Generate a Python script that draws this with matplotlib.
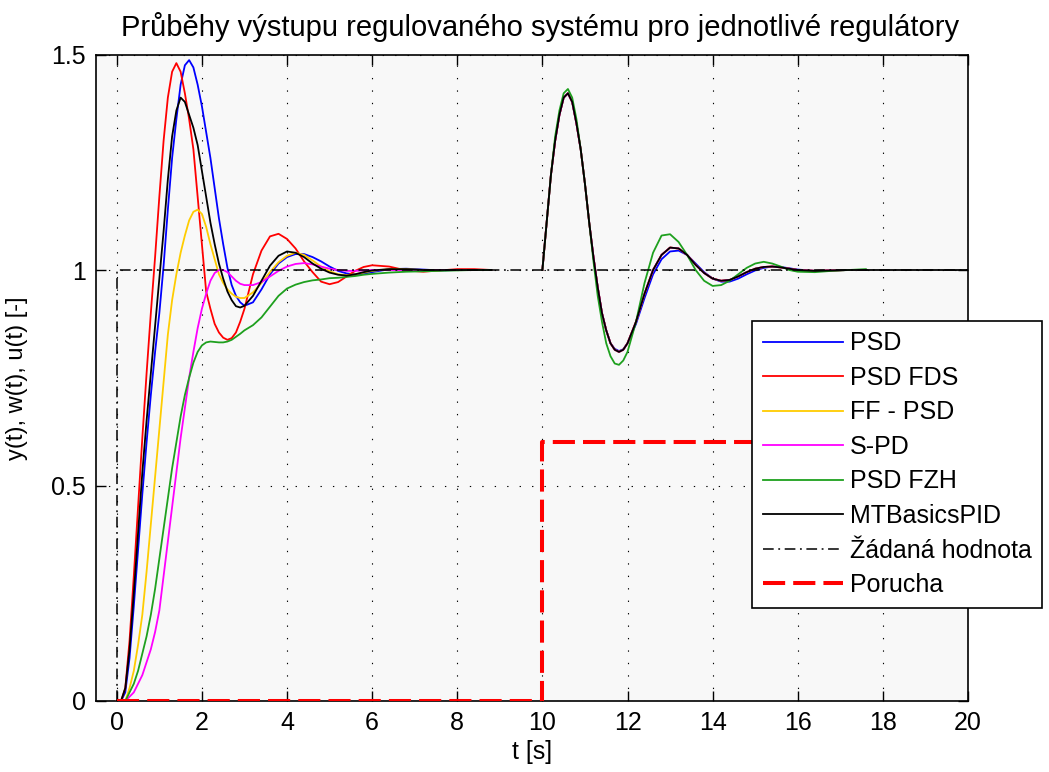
import numpy as np
import matplotlib
matplotlib.use("Agg")
import matplotlib.pyplot as plt
from matplotlib.lines import Line2D

plt.rcParams['font.family'] = ['Liberation Sans', 'DejaVu Sans']

# ---------------- data ----------------
# setpoint-step part (t = 0 .. 8.8 s)
t_sp = [0.0, 0.1, 0.2, 0.3, 0.4, 0.5, 0.6, 0.7, 0.8, 0.9,
        1.0, 1.1, 1.2, 1.3, 1.4, 1.5, 1.6, 1.7, 1.8, 1.9,
        2.0, 2.1, 2.2, 2.3, 2.4, 2.5, 2.6, 2.7, 2.8, 2.9, 3.0,
        3.2, 3.4, 3.6, 3.8, 4.0, 4.2, 4.4, 4.6, 4.8, 5.0,
        5.2, 5.4, 5.6, 5.8, 6.0, 6.4, 6.8, 7.2, 7.6, 8.0, 8.4, 8.8]

psd_sp = [0, 0.0, 0.02, 0.1, 0.22, 0.35, 0.48, 0.6, 0.71, 0.81,
          0.90, 1.01, 1.14, 1.26, 1.35, 1.43, 1.475, 1.487, 1.47, 1.43,
          1.38, 1.32, 1.26, 1.19, 1.12, 1.06, 1.005, 0.965, 0.94, 0.925, 0.917,
          0.925, 0.955, 0.99, 1.015, 1.03, 1.037, 1.037, 1.03, 1.02, 1.008,
          0.998, 0.992, 0.99, 0.991, 0.995, 1.002, 1.003, 1.001, 0.999, 1.0, 1.0, 1.0]

fds_sp = [0, 0.0, 0.03, 0.14, 0.29, 0.45, 0.61, 0.76, 0.90, 1.03,
          1.17, 1.30, 1.40, 1.46, 1.48, 1.46, 1.41, 1.35, 1.28, 1.17,
          1.06, 0.95, 0.91, 0.875, 0.855, 0.843, 0.838, 0.842, 0.855, 0.88, 0.91,
          0.99, 1.045, 1.078, 1.084, 1.072, 1.05, 1.02, 0.995, 0.973, 0.967,
          0.972, 0.985, 0.998, 1.007, 1.011, 1.008, 0.999, 0.996, 0.999, 1.002, 1.002, 1.0]

ff_sp = [0, 0.0, 0.0, 0.03, 0.07, 0.13, 0.2, 0.3, 0.41, 0.52,
         0.63, 0.74, 0.85, 0.93, 0.99, 1.04, 1.08, 1.115, 1.135, 1.14,
         1.13, 1.10, 1.06, 1.025, 0.99, 0.97, 0.955, 0.945, 0.938, 0.935, 0.935,
         0.948, 0.97, 0.995, 1.018, 1.033, 1.04, 1.035, 1.022, 1.008, 0.997,
         0.99, 0.988, 0.99, 0.994, 0.998, 1.002, 1.002, 1.0, 1.0, 1.0, 1.0, 1.0]

spd_sp = [0, 0.0, 0.0, 0.01, 0.02, 0.04, 0.06, 0.09, 0.12, 0.16,
          0.21, 0.29, 0.37, 0.45, 0.53, 0.61, 0.68, 0.75, 0.81, 0.865,
          0.91, 0.945, 0.975, 0.993, 1.0, 1.0, 0.995, 0.985, 0.975, 0.968, 0.965,
          0.965, 0.972, 0.985, 0.998, 1.008, 1.014, 1.016, 1.013, 1.008, 1.003,
          1.0, 0.998, 0.998, 0.999, 1.0, 1.0, 1.0, 1.0, 1.0, 1.0, 1.0, 1.0]

fzh_sp = [0, 0.0, 0.0, 0.02, 0.04, 0.07, 0.11, 0.15, 0.2, 0.26,
          0.33, 0.40, 0.47, 0.54, 0.6, 0.66, 0.71, 0.75, 0.785, 0.81,
          0.825, 0.832, 0.834, 0.833, 0.832, 0.832, 0.834, 0.838, 0.845, 0.852, 0.86,
          0.872, 0.89, 0.915, 0.94, 0.957, 0.966, 0.972, 0.976, 0.978, 0.981,
          0.982, 0.984, 0.986, 0.989, 0.991, 0.994, 0.996, 0.997, 0.998, 0.999, 1.0, 1.0]

mtb_sp = [0, 0.0, 0.03, 0.12, 0.25, 0.39, 0.53, 0.65, 0.76, 0.87,
          0.98, 1.09, 1.21, 1.31, 1.37, 1.40, 1.39, 1.36, 1.33, 1.29,
          1.23, 1.17, 1.11, 1.06, 1.015, 0.98, 0.95, 0.93, 0.916, 0.913, 0.917,
          0.94, 0.975, 1.01, 1.033, 1.043, 1.04, 1.03, 1.015, 1.003, 0.994,
          0.989, 0.987, 0.99, 0.995, 0.999, 1.002, 1.002, 1.0, 1.0, 1.0, 1.0, 1.0]

# disturbance part (t = 10 .. 17.6 s)
t_dist = [10.0, 10.1, 10.2, 10.3, 10.4, 10.5, 10.6, 10.7, 10.8, 10.9,
          11.0, 11.1, 11.2, 11.3, 11.4, 11.5, 11.6, 11.7, 11.8, 11.9, 12.0,
          12.2, 12.4, 12.6, 12.8, 13.0, 13.2, 13.4, 13.6, 13.8, 14.0,
          14.2, 14.4, 14.6, 14.8, 15.0, 15.2, 15.4, 15.6, 15.8, 16.0,
          16.4, 16.8, 17.2, 17.6]

mtb_dist = [1.0, 1.11, 1.22, 1.30, 1.36, 1.40, 1.41, 1.39, 1.34, 1.28,
            1.20, 1.11, 1.03, 0.96, 0.90, 0.86, 0.83, 0.815, 0.81, 0.815, 0.83,
            0.88, 0.945, 1.0, 1.035, 1.052, 1.05, 1.035, 1.012, 0.993, 0.98,
            0.975, 0.977, 0.985, 0.995, 1.003, 1.007, 1.008, 1.006, 1.003, 1.0,
            0.998, 0.999, 1.0, 1.0]

psd_dist = [1.0, 1.11, 1.22, 1.30, 1.36, 1.40, 1.41, 1.39, 1.34, 1.28,
            1.20, 1.11, 1.03, 0.96, 0.90, 0.86, 0.83, 0.817, 0.812, 0.816, 0.83,
            0.875, 0.935, 0.99, 1.025, 1.043, 1.045, 1.035, 1.015, 0.995, 0.98,
            0.973, 0.973, 0.98, 0.99, 0.999, 1.005, 1.008, 1.007, 1.004, 1.001,
            0.998, 0.999, 1.0, 1.0]

fzh_dist = [1.0, 1.11, 1.22, 1.31, 1.37, 1.41, 1.42, 1.40, 1.35, 1.28,
            1.20, 1.11, 1.02, 0.94, 0.88, 0.83, 0.80, 0.783, 0.78, 0.79, 0.81,
            0.88, 0.97, 1.04, 1.08, 1.083, 1.065, 1.035, 1.0, 0.975, 0.963,
            0.965, 0.975, 0.99, 1.005, 1.015, 1.019, 1.015, 1.008, 1.0, 0.996,
            0.995, 0.998, 1.0, 1.002]

fds_dist = mtb_dist
ff_dist = mtb_dist
spd_dist = mtb_dist

# MTBasicsPID output stays at the setpoint until the end of the window
mtb_tail_t = [17.6, 20.0]
mtb_tail = [1.0, 1.0]

setpoint_t = [0, 0, 20]
setpoint_y = [0, 1, 1]
dist_t = [0, 10, 10, 20]
dist_y = [0, 0, 0.6, 0.6]

labels = ['PSD', 'PSD FDS', 'FF - PSD', 'S-PD', 'PSD FZH', 'MTBasicsPID',
          'Žádaná hodnota', 'Porucha']
xticks = [0, 2, 4, 6, 8, 10, 12, 14, 16, 18, 20]
yticks = [0, 0.5, 1, 1.5]
yticklabels = ['0', '0.5', '1', '1.5']

# ---------------- plot ----------------
fig = plt.figure(figsize=(10.49, 7.72), dpi=100)
ax = fig.add_axes([95.5 / 1049, 71 / 772, 872.5 / 1049, 646.5 / 772])
ax.set_facecolor('#f8f8f8')

series = [
    (psd_sp, psd_dist, '#0000ff'),
    (fds_sp, fds_dist, '#ff0000'),
    (ff_sp, ff_dist, '#ffcc00'),
    (spd_sp, spd_dist, '#ff00ff'),
    (fzh_sp, fzh_dist, '#1ea01e'),
    (mtb_sp, mtb_dist, '#000000'),
]
lw = 1.3
for ysp, ydist, col in series:
    ax.plot(t_sp, ysp, color=col, lw=lw, zorder=3)
    ax.plot(t_dist, ydist, color=col, lw=lw, zorder=3)
ax.plot(mtb_tail_t, mtb_tail, color='#000000', lw=lw, zorder=3)

sp_line, = ax.plot(setpoint_t, setpoint_y, color='black', lw=1.1, zorder=4)
sp_line.set_dashes((7, 3, 1.2, 3))
d_line, = ax.plot(dist_t, dist_y, color='#ff0000', lw=2.9, zorder=5)
d_line.set_dashes((5.5, 2))

ax.set_xlim(-0.5, 20)
ax.set_ylim(0, 1.5)
ax.set_xticks(xticks)
ax.set_yticks(yticks)
ax.set_yticklabels(yticklabels)
ax.tick_params(direction='in', length=7, width=1, top=True, right=True,
               labelsize=18, pad=7, colors='black')
for s in ax.spines.values():
    s.set_linewidth(1.2)
    s.set_color('black')
ax.grid(True, color='black', lw=0.8, linestyle=(0, (1.2, 10)))
ax.set_axisbelow(True)

ax.set_title('Průběhy výstupu regulovaného systému pro jednotlivé regulátory',
             fontsize=21, pad=13, x=0.51)
ax.set_xlabel('t [s]', fontsize=18, labelpad=4)
ax.set_ylabel('y(t), w(t), u(t) [-]', fontsize=17)
ax.yaxis.set_label_coords(-0.077, 0.5)

handles = [Line2D([], [], color=c, lw=lw) for _, _, c in series]
h_sp = Line2D([], [], color='black', lw=1.1)
h_sp.set_dashes((7, 3, 1.2, 3))
h_d = Line2D([], [], color='#ff0000', lw=2.9)
h_d.set_dashes((5.5, 2))
handles += [h_sp, h_d]

leg = fig.legend(handles, labels, loc='upper left',
                 bbox_to_anchor=(752 / 1049, 1 - 321 / 772),
                 fontsize=18, frameon=True, fancybox=False, framealpha=1,
                 edgecolor='black', handlelength=3.2, handletextpad=0.28,
                 labelspacing=0.42, borderpad=0.42, borderaxespad=0)
leg.get_frame().set_linewidth(1.2)
leg.set_zorder(10)

fig.savefig('out.png', dpi=100, facecolor='white')
